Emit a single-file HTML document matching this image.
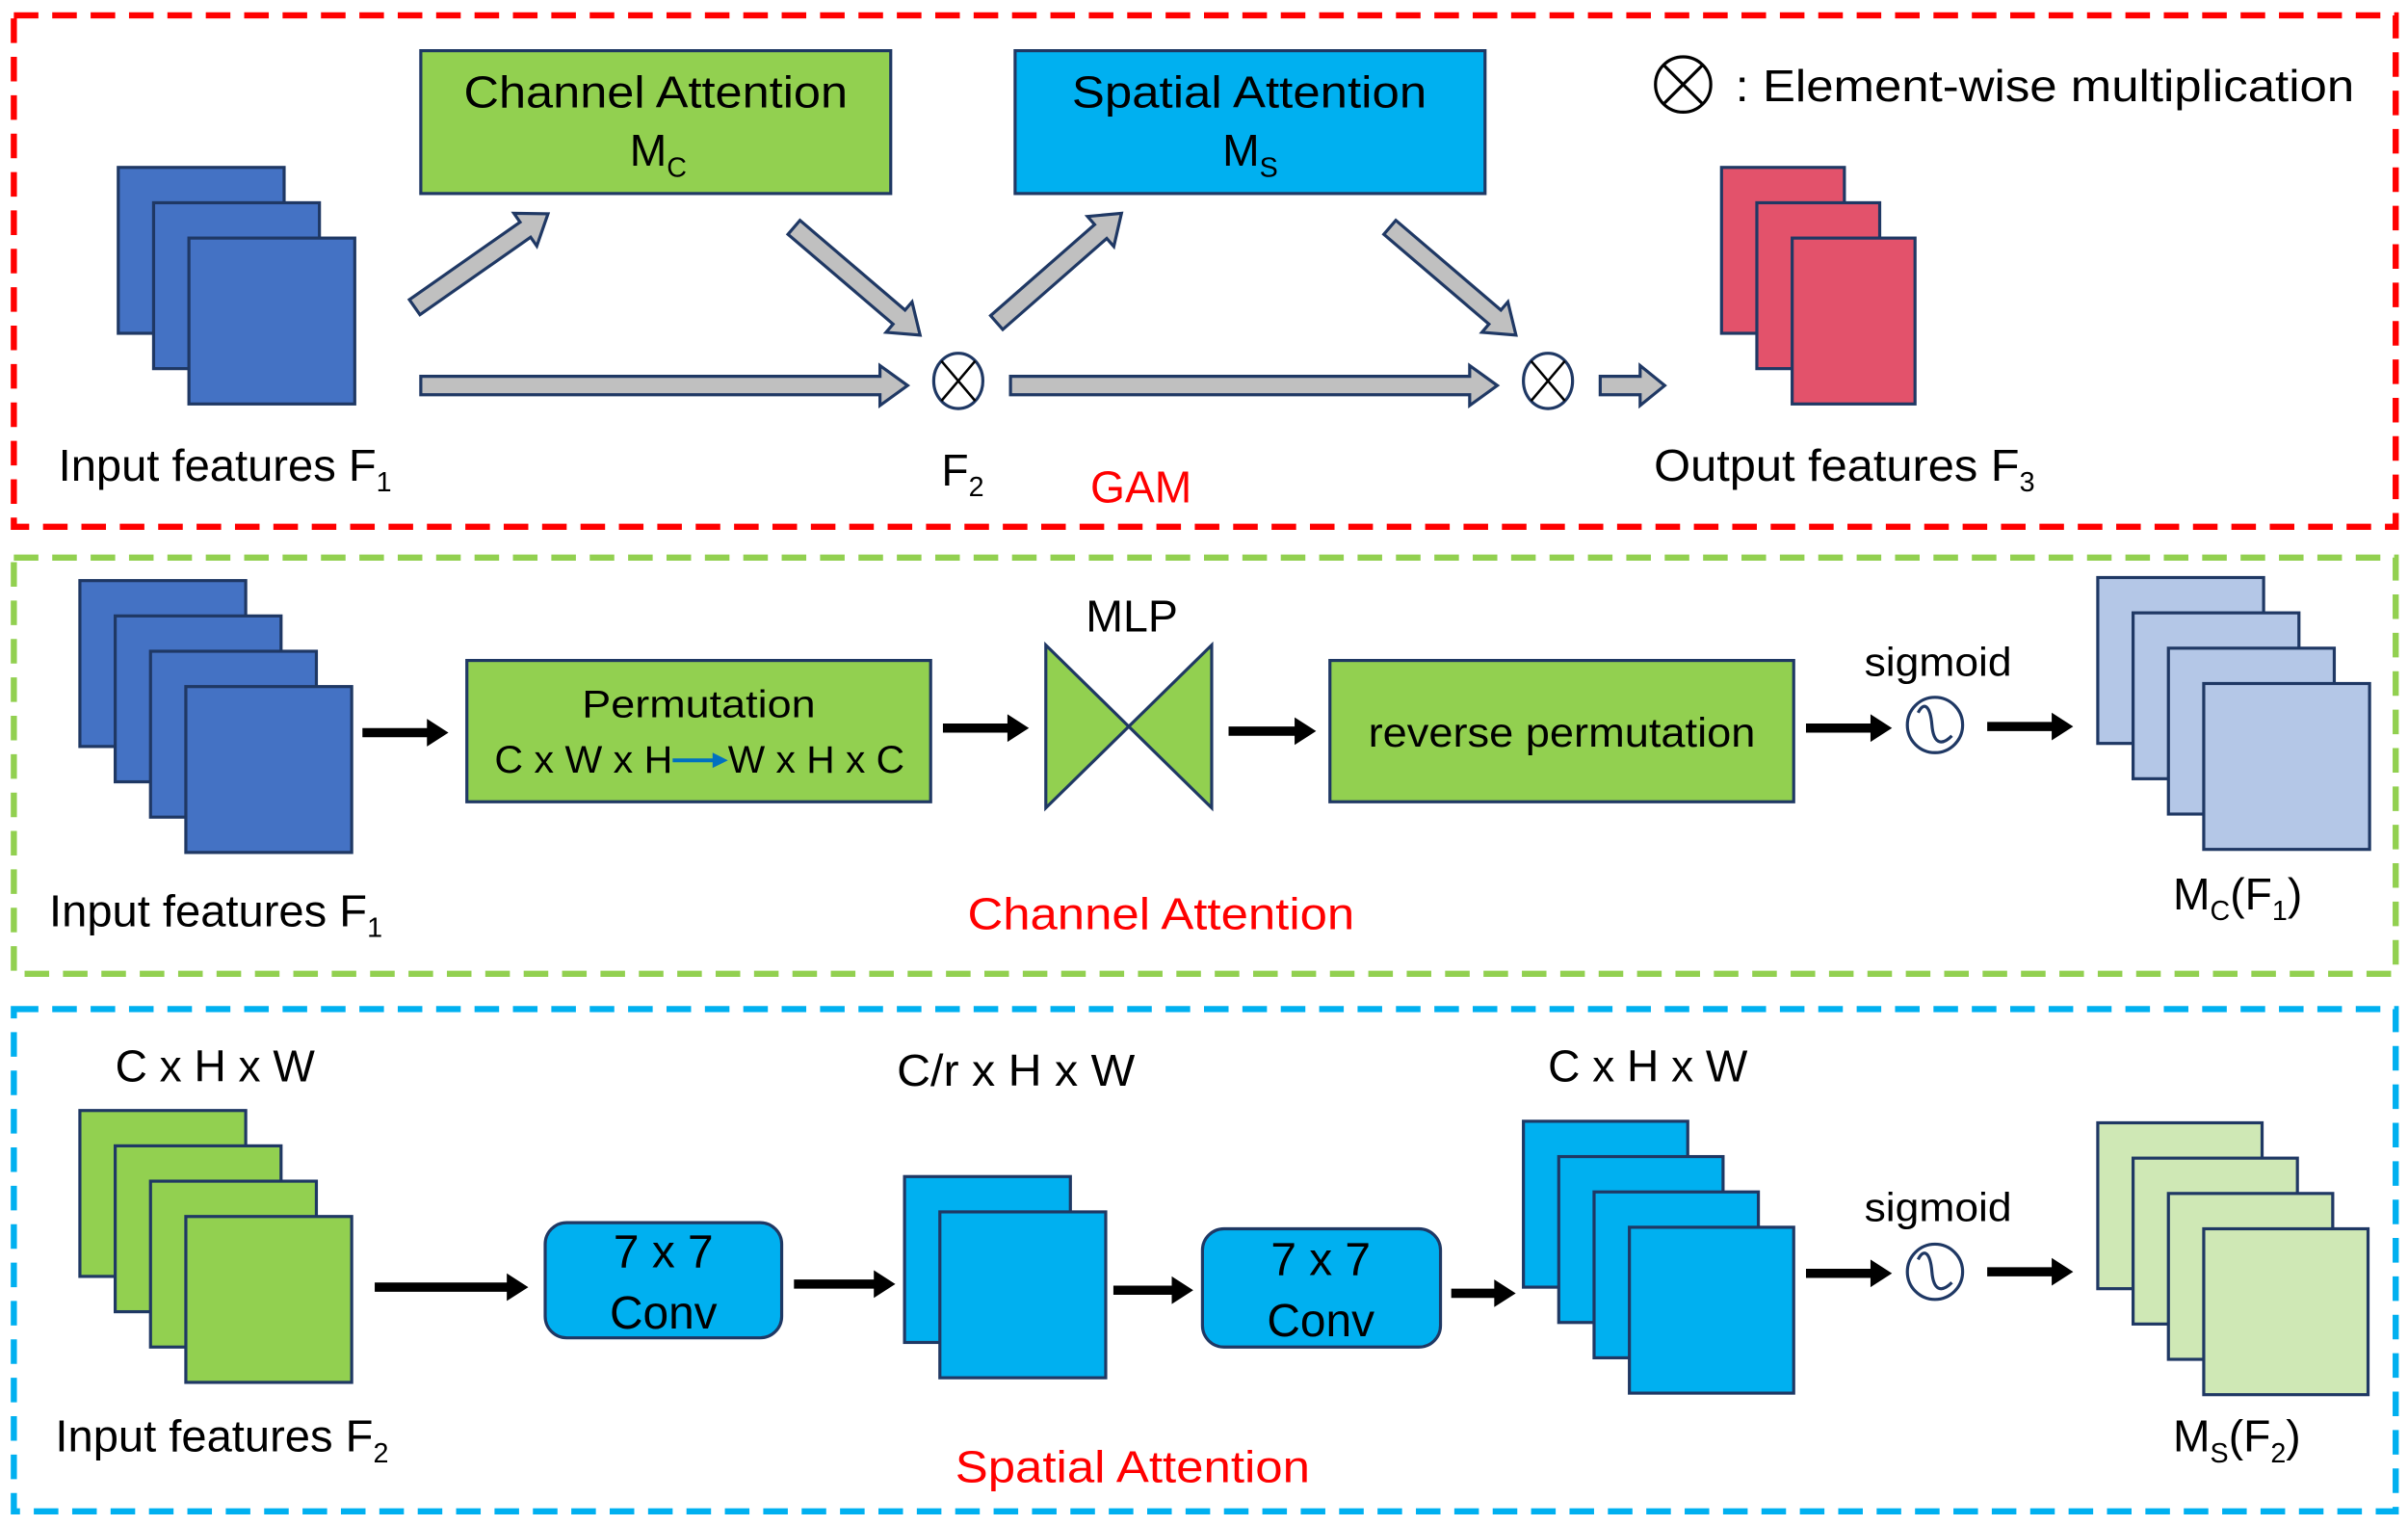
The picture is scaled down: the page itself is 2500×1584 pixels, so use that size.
<!DOCTYPE html>
<html><head><meta charset="utf-8"><style>
html,body{margin:0;padding:0;background:#fff;}
svg{display:block;}
text{font-family:"Liberation Sans",sans-serif;fill:#000;}
</style></head><body>
<svg width="2500" height="1584" viewBox="0 0 1568 993.5" xmlns="http://www.w3.org/2000/svg">
<rect x="9" y="10" width="1551" height="333" fill="none" stroke="#ff0000" stroke-width="4" stroke-dasharray="16 9"/>
<rect x="9" y="363" width="1551" height="271" fill="none" stroke="#92d050" stroke-width="4" stroke-dasharray="16 9"/>
<rect x="9" y="657" width="1551" height="327" fill="none" stroke="#00b0f0" stroke-width="4" stroke-dasharray="16 9"/>

<g stroke="#1f3864" stroke-width="2">
<rect x="77" y="109" width="108" height="108" fill="#4472c4"/>
<rect x="100" y="132" width="108" height="108" fill="#4472c4"/>
<rect x="123" y="155" width="108" height="108" fill="#4472c4"/>
<rect x="1121" y="109" width="80" height="108" fill="#e3526b"/>
<rect x="1144" y="132" width="80" height="108" fill="#e3526b"/>
<rect x="1167" y="155" width="80" height="108" fill="#e3526b"/>
<rect x="274" y="33" width="306" height="93" fill="#92d050"/>
<rect x="661" y="33" width="306" height="93" fill="#00b0f0"/>
</g>
<text x="302" y="70" font-size="29" textLength="250" lengthAdjust="spacingAndGlyphs">Channel Attention</text>
<text x="410" y="108" font-size="29">M<tspan font-size="18" dy="7">C</tspan></text>
<text x="698" y="70" font-size="29" textLength="231" lengthAdjust="spacingAndGlyphs">Spatial Attention</text>
<text x="796" y="108" font-size="29">M<tspan font-size="18" dy="7">S</tspan></text>

<ellipse cx="1096" cy="55" rx="18" ry="18" fill="none" stroke="#000" stroke-width="2"/>
<path d="M1083,42 L1109,68 M1109,42 L1083,68" stroke="#000" stroke-width="2"/>
<text x="1130" y="66" font-size="29" textLength="403" lengthAdjust="spacingAndGlyphs">: Element-wise multiplication</text>

<g fill="#c0c0c0" stroke="#1f3864" stroke-width="2">
<path transform="translate(274,251)" d="M0,-6 H299 V-13 L317,0 L299,13 V6 H0Z"/>
<path transform="translate(658,251)" d="M0,-6 H299 V-13 L317,0 L299,13 V6 H0Z"/>
<path transform="translate(1042,251)" d="M0,-6 H26 V-13 L42,0 L26,13 V6 H0Z"/>
<path transform="translate(270,200) rotate(-35)" d="M0,-6 H88 V-13 L106,0 L88,13 V6 H0Z"/>
<path transform="translate(517,148) rotate(40.5)" d="M0,-6 H90 V-13 L108,0 L90,13 V6 H0Z"/>
<path transform="translate(649,210) rotate(-41.2)" d="M0,-6 H90 V-13 L108,0 L90,13 V6 H0Z"/>
<path transform="translate(905,148) rotate(40.5)" d="M0,-6 H90 V-13 L108,0 L90,13 V6 H0Z"/>
</g>
<g stroke="#1f3864" stroke-width="2" fill="#fff">
<ellipse cx="624" cy="248" rx="16" ry="18"/>
<ellipse cx="1008" cy="248" rx="16" ry="18"/>
</g>
<path d="M613,235 L635,261 M635,235 L613,261 M997,235 L1019,261 M1019,235 L997,261" stroke="#000" stroke-width="1.6"/>

<text x="38" y="313" font-size="29"><tspan textLength="207" lengthAdjust="spacingAndGlyphs">Input features F</tspan><tspan font-size="18" dy="7">1</tspan></text>
<text x="613" y="316" font-size="29">F<tspan font-size="18" dy="7">2</tspan></text>
<text x="710" y="327" font-size="29" style="fill:#ff0000">GAM</text>
<text x="1077" y="313" font-size="29"><tspan textLength="238" lengthAdjust="spacingAndGlyphs">Output features F</tspan><tspan font-size="18" dy="7">3</tspan></text>

<g stroke="#1f3864" stroke-width="2">
<rect x="52" y="378" width="108" height="108" fill="#4472c4"/>
<rect x="75" y="401" width="108" height="108" fill="#4472c4"/>
<rect x="98" y="424" width="108" height="108" fill="#4472c4"/>
<rect x="121" y="447" width="108" height="108" fill="#4472c4"/>
<rect x="304" y="430" width="302" height="92" fill="#92d050"/>
<rect x="866" y="430" width="302" height="92" fill="#92d050"/>
<path d="M681,420 L735,473 L681,526Z M789,420 L735,473 L789,526Z" fill="#92d050"/>
<rect x="1366" y="376" width="108" height="108" fill="#b4c7e7"/>
<rect x="1389" y="399" width="108" height="108" fill="#b4c7e7"/>
<rect x="1412" y="422" width="108" height="108" fill="#b4c7e7"/>
<rect x="1435" y="445" width="108" height="108" fill="#b4c7e7"/>
</g>
<text x="379" y="467" font-size="25" textLength="152" lengthAdjust="spacingAndGlyphs">Permutation</text>
<text x="322" y="503" font-size="25" textLength="116" lengthAdjust="spacingAndGlyphs">C x W x H</text>
<text x="474" y="503" font-size="25" textLength="115" lengthAdjust="spacingAndGlyphs">W x H x C</text>
<path d="M438,495 H466" stroke="#0070c0" stroke-width="2.5"/>
<path d="M474,495 L464,490 L464,500Z" fill="#0070c0"/>
<text x="707" y="411" font-size="29" textLength="60" lengthAdjust="spacingAndGlyphs">MLP</text>
<text x="891" y="486" font-size="27" textLength="252" lengthAdjust="spacingAndGlyphs">reverse permutation</text>
<text x="1214" y="440" font-size="26" textLength="96" lengthAdjust="spacingAndGlyphs">sigmoid</text>
<ellipse cx="1260" cy="472" rx="18" ry="18" fill="none" stroke="#1f3864" stroke-width="2"/>
<path d="M1249,464 C1253,456 1257,460 1258,472 C1259,484 1264,486 1271,479" fill="none" stroke="#1f3864" stroke-width="2"/>
<g fill="#000">
<path d="M236,474 H278 V468 L292,477 L278,486 V480 H236Z"/>
<path d="M614,471 H656 V465 L670,474 L656,483 V477 H614Z"/>
<path d="M800,473 H843 V467 L857,476 L843,485 V479 H800Z"/>
<path d="M1176,471 H1218 V465 L1232,474 L1218,483 V477 H1176Z"/>
<path d="M1294,470 H1336 V464 L1350,473 L1336,482 V476 H1294Z"/>
</g>
<text x="32" y="603" font-size="29"><tspan textLength="207" lengthAdjust="spacingAndGlyphs">Input features F</tspan><tspan font-size="18" dy="7">1</tspan></text>
<text x="630" y="605" font-size="29" style="fill:#ff0000" textLength="252" lengthAdjust="spacingAndGlyphs">Channel Attention</text>
<text x="1415" y="592" font-size="29">M<tspan font-size="18" dy="7">C</tspan><tspan dy="-7">(F</tspan><tspan font-size="18" dy="7">1</tspan><tspan dy="-7">)</tspan></text>

<text x="75" y="704" font-size="29" textLength="130" lengthAdjust="spacingAndGlyphs">C x H x W</text>
<text x="584" y="707" font-size="29" textLength="155" lengthAdjust="spacingAndGlyphs">C/r x H x W</text>
<text x="1008" y="704" font-size="29" textLength="130" lengthAdjust="spacingAndGlyphs">C x H x W</text>
<g stroke="#1f3864" stroke-width="2">
<rect x="52" y="723" width="108" height="108" fill="#92d050"/>
<rect x="75" y="746" width="108" height="108" fill="#92d050"/>
<rect x="98" y="769" width="108" height="108" fill="#92d050"/>
<rect x="121" y="792" width="108" height="108" fill="#92d050"/>
<rect x="355" y="796" width="154" height="75" rx="14" fill="#00b0f0"/>
<rect x="589" y="766" width="108" height="108" fill="#00b0f0"/>
<rect x="612" y="789" width="108" height="108" fill="#00b0f0"/>
<rect x="783" y="800" width="155" height="77" rx="14" fill="#00b0f0"/>
<rect x="992" y="730" width="107" height="108" fill="#00b0f0"/>
<rect x="1015" y="753" width="107" height="108" fill="#00b0f0"/>
<rect x="1038" y="776" width="107" height="108" fill="#00b0f0"/>
<rect x="1061" y="799" width="107" height="108" fill="#00b0f0"/>
<rect x="1366" y="731" width="107" height="108" fill="#cfe8b5"/>
<rect x="1389" y="754" width="107" height="108" fill="#cfe8b5"/>
<rect x="1412" y="777" width="107" height="108" fill="#cfe8b5"/>
<rect x="1435" y="800" width="107" height="108" fill="#cfe8b5"/>
</g>
<text x="432" y="825" font-size="30" text-anchor="middle">7 x 7</text>
<text x="432" y="865" font-size="30" text-anchor="middle">Conv</text>
<text x="860" y="830" font-size="30" text-anchor="middle">7 x 7</text>
<text x="860" y="870" font-size="30" text-anchor="middle">Conv</text>
<text x="1214" y="795" font-size="26" textLength="96" lengthAdjust="spacingAndGlyphs">sigmoid</text>
<ellipse cx="1260" cy="828" rx="18" ry="18" fill="none" stroke="#1f3864" stroke-width="2"/>
<path d="M1249,820 C1253,812 1257,816 1258,828 C1259,840 1264,842 1271,835" fill="none" stroke="#1f3864" stroke-width="2"/>
<g fill="#000">
<path d="M244,835 H330 V829 L344,838 L330,847 V841 H244Z"/>
<path d="M517,833 H569 V827 L583,836 L569,845 V839 H517Z"/>
<path d="M725,837 H763 V831 L777,840 L763,849 V843 H725Z"/>
<path d="M945,839 H973 V833 L987,842 L973,851 V845 H945Z"/>
<path d="M1176,826 H1218 V820 L1232,829 L1218,838 V832 H1176Z"/>
<path d="M1294,825 H1336 V819 L1350,828 L1336,837 V831 H1294Z"/>
</g>
<text x="36" y="945" font-size="29"><tspan textLength="207" lengthAdjust="spacingAndGlyphs">Input features F</tspan><tspan font-size="18" dy="7">2</tspan></text>
<text x="622" y="965" font-size="29" style="fill:#ff0000" textLength="231" lengthAdjust="spacingAndGlyphs">Spatial Attention</text>
<text x="1415" y="945" font-size="29">M<tspan font-size="18" dy="7">S</tspan><tspan dy="-7">(F</tspan><tspan font-size="18" dy="7">2</tspan><tspan dy="-7">)</tspan></text>
</svg>
</body></html>
